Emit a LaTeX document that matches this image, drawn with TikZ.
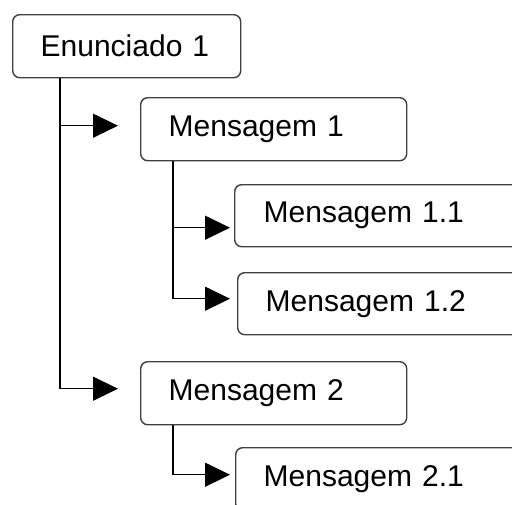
\documentclass[tikz,border=0pt]{standalone}
\usepackage{fontspec}
\setmainfont{Liberation Sans}
\usetikzlibrary{arrows.meta}
\begin{document}
\begin{tikzpicture}[x=1pt,y=-1pt,
  box/.style={draw=black!75, line width=1.4pt, rounded corners=7pt, anchor=north west, align=left, inner ysep=0pt, font=\fontsize{30}{36}\selectfont},
  conn/.style={line width=1.3pt, black},
  arr/.style={conn, -{Triangle[length=25pt,width=24pt]}}]
\useasboundingbox (0,0) rectangle (512,504);
\clip (0,0) rectangle (512,504);
\node[box, inner xsep=28pt, text width=172pt, minimum height=63pt] (e1) at (12,14) {Enunciado 1};
\node[box, inner xsep=28pt, text width=210pt, minimum height=63pt] (m1) at (140,97) {Mensagem 1};
\node[box, inner xsep=29pt, text width=250pt, minimum height=62pt] (m11) at (234,184) {Mensagem 1.1};
\node[box, inner xsep=28pt, text width=250pt, minimum height=62pt] (m12) at (237,272) {Mensagem 1.2};
\node[box, inner xsep=28pt, text width=210pt, minimum height=63pt] (m2) at (140,361) {Mensagem 2};
\node[box, inner xsep=28pt, text width=250pt, minimum height=63pt] (m21) at (235,447) {Mensagem 2.1};
% trunk points
\coordinate (t0) at ([xshift=48pt]e1.south west);
\coordinate (t1) at ([xshift=33pt]m1.south west);
\coordinate (t2) at ([xshift=33pt]m2.south west);
% arrow tips
\coordinate (a1) at ([xshift=-22pt,yshift=3.5pt]m1.west);
\coordinate (a2) at ([xshift=-22pt,yshift=4.5pt]m2.west);
\coordinate (a11) at ([xshift=-4pt,yshift=-12pt]m11.west);
\coordinate (a12) at ([xshift=-7pt,yshift=5pt]m12.west);
\coordinate (a21) at ([xshift=-5pt,yshift=4.5pt]m21.west);
\draw[arr] (t0) |- (a2);
\draw[arr] (t0 |- a1) -- (a1);
\draw[arr] (t1) |- (a12);
\draw[arr] (t1 |- a11) -- (a11);
\draw[arr] (t2) |- (a21);
\end{tikzpicture}
\end{document}
